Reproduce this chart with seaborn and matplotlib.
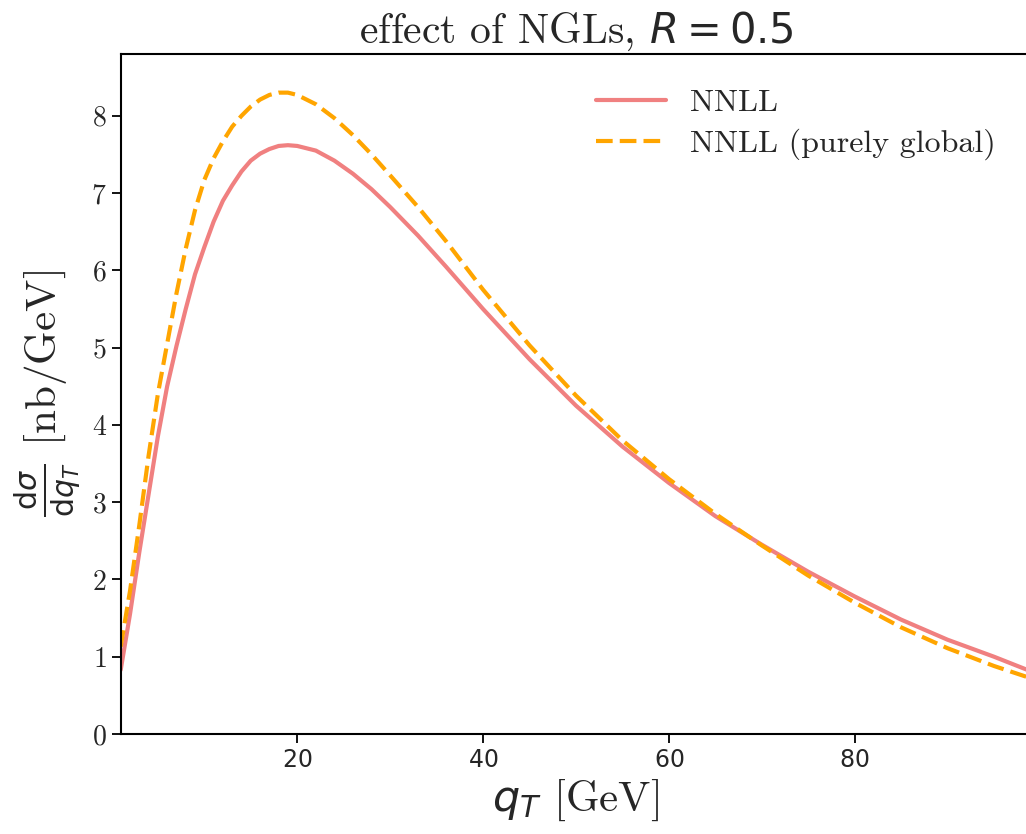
import matplotlib
matplotlib.use("Agg")
import matplotlib.pyplot as plt
import seaborn as sns
import pandas as pd

# Data
q_T = [1, 2, 3, 4, 5, 6, 7, 8, 9, 10, 11, 12, 13, 14, 15, 16, 17, 18, 19, 20,
       22, 24, 26, 28, 30, 33, 36, 40, 45, 50, 55, 60, 65, 70, 75, 80, 85, 90,
       95, 99]
nnll = [0.83, 1.55, 2.35, 3.1, 3.85, 4.5, 5.02, 5.5, 5.95, 6.3, 6.63, 6.9,
        7.1, 7.28, 7.42, 7.51, 7.57, 7.61, 7.62, 7.61, 7.55, 7.42, 7.25, 7.05,
        6.82, 6.45, 6.05, 5.5, 4.85, 4.25, 3.72, 3.25, 2.82, 2.45, 2.1, 1.78,
        1.48, 1.22, 1.0, 0.81]
nnll_global = [1.13, 1.85, 2.7, 3.6, 4.4, 5.05, 5.7, 6.28, 6.78, 7.17, 7.45,
               7.67, 7.86, 8.0, 8.12, 8.21, 8.27, 8.3, 8.3, 8.27, 8.15, 7.97,
               7.75, 7.5, 7.23, 6.82, 6.38, 5.75, 5.03, 4.38, 3.8, 3.3, 2.85,
               2.44, 2.05, 1.7, 1.38, 1.11, 0.88, 0.72]
labels = ["NNLL", "NNLL (purely global)"]

df = pd.DataFrame({"q": q_T, "nnll": nnll, "glob": nnll_global})

sns.set_theme(style="ticks")
plt.rcParams["font.family"] = ["cmr10", "DejaVu Sans"]
plt.rcParams["mathtext.fontset"] = "dejavusans"
plt.rcParams["axes.formatter.use_mathtext"] = True

fig = plt.figure(figsize=(10.26, 8.34), dpi=100)
ax = fig.add_axes([120.7 / 1026, 100 / 834, 910.5 / 1026, 680 / 834])

sns.lineplot(data=df, x="q", y="nnll", ax=ax, color="lightcoral", lw=3,
             label=labels[0])
sns.lineplot(data=df, x="q", y="glob", ax=ax, color="orange", lw=3,
             label=labels[1])
ax.lines[1].set_dashes([4, 1.7])

ax.set_xlim(1, 99)
ax.set_ylim(0, 8.8)
ax.set_xticks([20, 40, 60, 80])
ax.set_yticks(range(0, 9))

for sp in ax.spines.values():
    sp.set_linewidth(1.5)
    sp.set_color("black")
ax.tick_params(axis="both", length=6.5, width=1.3, color="black")
ax.tick_params(axis="y", labelsize=20)
ax.tick_params(axis="x", labelsize=17)
for t in ax.get_xticklabels():
    t.set_fontfamily("DejaVu Sans")

ax.set_title(r"effect of NGLs, $R = 0.5$", fontsize=30, pad=8)
ax.set_xlabel(r"$q_T$ [GeV]", fontsize=31, labelpad=4)
ax.set_ylabel(r"$\frac{\mathrm{d}\sigma}{\mathrm{d}q_T}$ [nb/GeV]", fontsize=31,
              labelpad=6)

ax.legend(loc="upper right", frameon=False, fontsize=23, handlelength=2.2,
          handletextpad=0.75, labelspacing=0.35, borderaxespad=0.7)

fig.savefig("out.png", dpi=100)
